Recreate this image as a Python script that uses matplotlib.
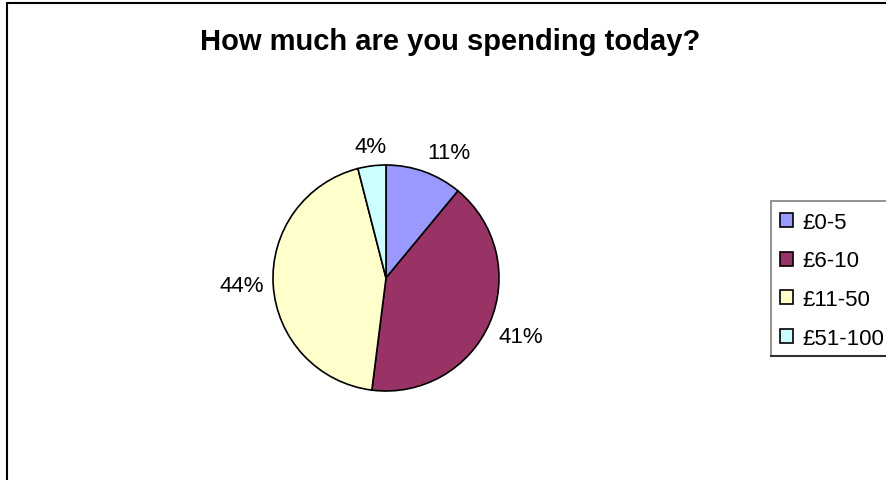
import numpy as np
import matplotlib.pyplot as plt
from matplotlib.patches import Rectangle
from matplotlib.lines import Line2D

plt.rcParams['font.family'] = ['Liberation Sans', 'DejaVu Sans']

categories = ['£0-5', '£6-10', '£11-50', '£51-100']
shares = [11, 41, 44, 4]
colors = ['#9999FF', '#993366', '#FFFFCC', '#CCFFFF']

W, H = 886, 481
fig = plt.figure(figsize=(W / 100, H / 100), dpi=100)

# chart frame (runs off the right and bottom edges like the original)
fig.patches.append(Rectangle((7 / W, -0.1), 1.2, (H - 4) / H + 0.1,
                             transform=fig.transFigure, fill=False,
                             edgecolor='black', lw=1.5))

fig.text(450 / W, 1 - 50 / H, 'How much are you spending today?',
         ha='center', va='baseline', fontsize=21, fontweight='bold')

# pie: centre (386, 279) px, radius 113 px
r = 113
ax = fig.add_axes([(386 - r) / W, (H - 279 - r) / H, 2 * r / W, 2 * r / H])
wedges, _ = ax.pie(shares, colors=colors, startangle=90, counterclock=False,
                   wedgeprops=dict(edgecolor='black', linewidth=1.2))
ax.set_xlim(-1, 1)
ax.set_ylim(-1, 1)
ax.set_aspect('equal')
ax.axis('off')

for w, v in zip(wedges, shares):
    ang = np.deg2rad((w.theta1 + w.theta2) / 2)
    c, s = np.cos(ang), np.sin(ang)
    ha = 'center' if abs(c) < 0.2 else ('left' if c > 0 else 'right')
    va = 'center' if abs(s) < 0.2 else ('bottom' if s > 0 else 'top')
    ax.text(1.08 * c, 1.08 * s, f'{v}%', ha=ha, va=va, fontsize=16)

# legend box: left 771, top 202, bottom 357 px, open to the right
fig.patches.append(Rectangle((771 / W, 1 - 357 / H), 0.2, 155 / H,
                             transform=fig.transFigure, fill=False,
                             edgecolor='#808080', lw=1.2))
fig.lines.append(Line2D([771 / W, 1], [1 - 357 / H] * 2,
                        transform=fig.transFigure, color='#303030', lw=1.5))

leg = fig.legend(wedges, categories, loc='upper left',
                 bbox_to_anchor=(771 / W, 1 - 204 / H),
                 fontsize=16, frameon=False,
                 handlelength=0.58, handleheight=0.58, handletextpad=0.45,
                 labelspacing=0.79, borderpad=0.4, borderaxespad=0)

fig.savefig('out.png', dpi=100)
